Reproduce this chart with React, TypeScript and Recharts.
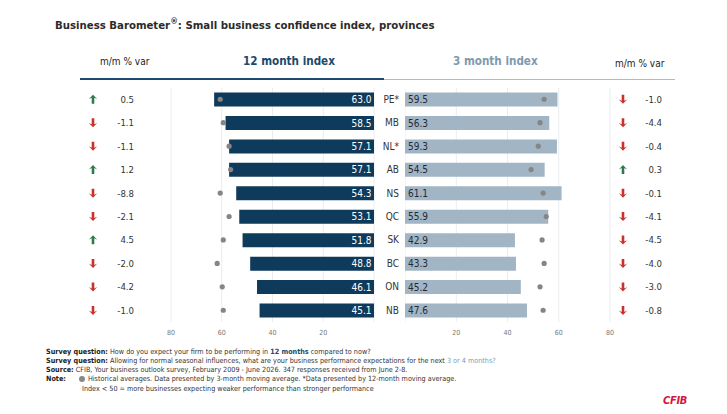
import { ComposedChart, Bar, Line, XAxis, YAxis, CartesianGrid, LabelList } from "recharts";

const provinces = ["PE*", "MB", "NL*", "AB", "NS", "QC", "SK", "BC", "ON", "NB"];
const index12 = [63.0, 58.5, 57.1, 57.1, 54.3, 53.1, 51.8, 48.8, 46.1, 45.1];
const hist12 = [60.6, 59.4, 57.1, 56.5, 60.6, 57.1, 59.4, 61.8, 59.8, 59.4];
const mm12 = [0.5, -1.1, -1.1, 1.2, -8.8, -2.1, 4.5, -2.0, -4.2, -1.0];
const index3 = [59.5, 56.3, 59.3, 54.5, 61.1, 55.9, 42.9, 43.3, 45.2, 47.6];
const hist3 = [54.3, 52.7, 52.0, 49.2, 53.9, 55.1, 53.5, 54.3, 52.7, 53.9];
const mm3 = [-1.0, -4.4, -0.4, 0.3, -0.1, -4.1, -4.5, -4.0, -3.0, -0.8];
const leftTicks = [20, 40, 60, 80];
const rightTicks = [0, 20, 40, 60, 80];

const data = provinces.map((prov, i) => ({
  prov,
  index12: index12[i],
  hist12: hist12[i],
  mm12: mm12[i],
  index3: index3[i],
  hist3: hist3[i],
  mm3: mm3[i],
}));

const FONT = '"DejaVu Sans Condensed", "DejaVu Sans", sans-serif';
const NAVY = "#0e3a5c";
const STEEL = "#a2b5c4";
const GREEN = "#2f7a4c";
const RED = "#c8322c";

function Arrow({ cx, cy, up }: { cx: number; cy: number; up: boolean }) {
  const s = up ? -1 : 1;
  const d = `M${cx - 4.2},${cy + s * 0.2} L${cx},${cy + s * 4.6} L${cx + 4.2},${cy + s * 0.2} L${cx + 1.3},${cy + s * 1.6} L${cx + 1.3},${cy - s * 4.4} L${cx - 1.3},${cy - s * 4.4} L${cx - 1.3},${cy + s * 1.6} Z`;
  return <path d={d} fill={up ? GREEN : RED} />;
}

function mmTick(key: "mm12" | "mm3", arrowX: number, textX: number) {
  return (props: any) => {
    const row = data.find(d => d.prov === props.payload.value);
    const v = row ? row[key] : 0;
    return (
      <g>
        <Arrow cx={arrowX} cy={props.y} up={v > 0} />
        <text x={textX} y={props.y} dy={3.5} textAnchor="end" fontSize={9.5} fill="#333" fontFamily={FONT}>
          {v.toFixed(1)}
        </text>
      </g>
    );
  };
}

const provTick = (props: any) => (
  <text x={359} y={props.y} dy={3.5} textAnchor="end" fontSize={10} fill="#333" fontFamily={FONT}>
    {props.payload.value}
  </text>
);

const leftValueLabel = (p: any) => {
  const right = Math.max(p.x, p.x + p.width);
  return (
    <text x={right - 2.5} y={p.y + p.height / 2} dy={3.6} textAnchor="end" fontSize={10} fill="#fff" fontFamily={FONT}>
      {Number(p.value).toFixed(1)}
    </text>
  );
};

const rightValueLabel = (p: any) => {
  const left = Math.min(p.x, p.x + p.width);
  return (
    <text x={left + 3} y={p.y + p.height / 2} dy={3.6} textAnchor="start" fontSize={10} fill="#1e2b38" fontFamily={FONT}>
      {Number(p.value).toFixed(1)}
    </text>
  );
};

const axisTick = { fontSize: 7, fill: "#777", fontFamily: FONT };

export default function App() {
  return (
    <div style={{ position: "relative", width: 727, height: 414, background: "#fff", fontFamily: FONT, overflow: "hidden" }}>
      <style>{"body{margin:0}"}</style>

      <div style={{ position: "absolute", left: 55, top: 16, fontSize: 11.3, fontWeight: 600, color: "#2b2b2b", whiteSpace: "nowrap" }}>
        Business Barometer<sup style={{ fontSize: 8.5 }}>®</sup>: Small business confidence index, provinces
      </div>

      <div style={{ position: "absolute", left: 100, top: 56, fontSize: 10, color: "#222" }}>m/m % var</div>
      <div style={{ position: "absolute", left: 243, top: 54, fontSize: 11.6, fontWeight: 600, color: "#1c4a6c", letterSpacing: 0 }}>12 month index</div>
      <div style={{ position: "absolute", left: 453, top: 54, fontSize: 11.6, fontWeight: 600, color: "#7f9ab0" }}>3 month index</div>
      <div style={{ position: "absolute", left: 615, top: 58, fontSize: 10, color: "#222" }}>m/m % var</div>
      <div style={{ position: "absolute", left: 80, top: 78, width: 304, height: 2, background: "#1d4a6e" }} />
      <div style={{ position: "absolute", left: 384, top: 78.5, width: 291, height: 1.5, background: "#a9bccb" }} />

      {/* 12 month index: bars grow leftwards from 0 */}
      <div style={{ position: "absolute", left: 40, top: 80 }}>
        <ComposedChart layout="vertical" width={365} height={262} data={data} margin={{ top: 7.5, right: 0, bottom: 0, left: 0 }}>
          <CartesianGrid horizontal={false} stroke="#e9edf0" />
          <XAxis type="number" domain={[0, 80]} ticks={leftTicks} reversed axisLine={false} tickLine={false} tick={axisTick} height={20} />
          <YAxis yAxisId="mm" type="category" dataKey="prov" orientation="left" width={131} axisLine={false} tickLine={false} tick={mmTick("mm12", 53, 94)} />
          <YAxis yAxisId="prov" type="category" dataKey="prov" orientation="right" width={31} axisLine={false} tickLine={false} tick={provTick} />
          <Bar yAxisId="prov" dataKey="index12" fill={NAVY} barSize={14} isAnimationActive={false}>
            <LabelList dataKey="index12" content={leftValueLabel} />
          </Bar>
          <Line yAxisId="prov" dataKey="hist12" stroke="none" dot={{ r: 2.6, fill: "#858585", stroke: "none" }} activeDot={false} isAnimationActive={false} />
        </ComposedChart>
      </div>

      {/* 3 month index */}
      <div style={{ position: "absolute", left: 405, top: 80 }}>
        <ComposedChart layout="vertical" width={322} height={262} data={data} margin={{ top: 7.5, right: 0, bottom: 0, left: 0 }}>
          <CartesianGrid horizontal={false} stroke="#e9edf0" />
          <XAxis type="number" domain={[0, 80]} ticks={rightTicks} axisLine={false} tickLine={false} tick={axisTick} height={20} />
          <YAxis yAxisId="mm" type="category" dataKey="prov" orientation="right" width={117} axisLine={false} tickLine={false} tick={mmTick("mm3", 218, 257)} />
          <Bar yAxisId="mm" dataKey="index3" fill={STEEL} barSize={14} isAnimationActive={false}>
            <LabelList dataKey="index3" content={rightValueLabel} />
          </Bar>
          <Line yAxisId="mm" dataKey="hist3" stroke="none" dot={{ r: 2.6, fill: "#858585", stroke: "none" }} activeDot={false} isAnimationActive={false} />
        </ComposedChart>
      </div>

      <div style={{ position: "absolute", left: 46, top: 346.5, fontSize: 7.2, lineHeight: "9.3px", color: "#333", whiteSpace: "nowrap" }}>
        <div><b style={{ color: "#222" }}>Survey question:</b> How do you expect your firm to be performing in <b style={{ color: "#1c4a6c" }}>12 months</b> compared to now?</div>
        <div><b style={{ color: "#222" }}>Survey question:</b> Allowing for normal seasonal influences, what are your business performance expectations for the next <span style={{ color: "#7f9ab0" }}>3 or 4 months?</span></div>
        <div><b style={{ color: "#222" }}>Source:</b> CFIB, Your business outlook survey, February 2009 - June 2026. 347 responses received from June 2-8.</div>
        <div>
          <b style={{ color: "#222" }}>Note:</b>
          <span style={{ display: "inline-block", width: 6, height: 6, borderRadius: 3, background: "#888", margin: "0 3px 0 13px", verticalAlign: "-0.5px" }} />
          Historical averages. Data presented by 3-month moving average. *Data presented by 12-month moving average.
        </div>
        <div style={{ paddingLeft: 36 }}>Index &lt; 50 = more businesses expecting weaker performance than stronger performance</div>
      </div>

      <div style={{ position: "absolute", left: 663, top: 394, fontSize: 11, fontWeight: 700, fontStyle: "italic", color: "#d5173d", letterSpacing: -0.3 }}>CFIB</div>
    </div>
  );
}
